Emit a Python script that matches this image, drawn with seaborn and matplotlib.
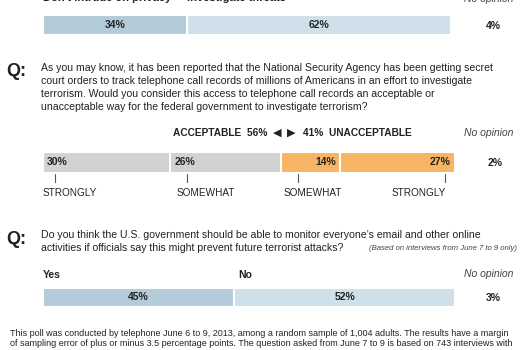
import numpy as np
import matplotlib
matplotlib.use("Agg")
import matplotlib.pyplot as plt
import seaborn as sns

# --- data ---
privacy_labels = ["Don't intrude on privacy", "Investigate threats"]
privacy_values = [34, 62]
privacy_noop = 4

nsa_values = [30, 26, 14, 27]          # acceptable strongly/somewhat, unacceptable somewhat/strongly
nsa_labels = ["STRONGLY", "SOMEWHAT", "SOMEWHAT", "STRONGLY"]
nsa_acceptable = 56
nsa_unacceptable = 41
nsa_noop = 2

email_labels = ["Yes", "No"]
email_values = [45, 52]
email_noop = 3

q2_lines = [
    "As you may know, it has been reported that the National Security Agency has been getting secret",
    "court orders to track telephone call records of millions of Americans in an effort to investigate",
    "terrorism. Would you consider this access to telephone call records an acceptable or",
    "unacceptable way for the federal government to investigate terrorism?",
]
q3_lines = [
    "Do you think the U.S. government should be able to monitor everyone\u2019s email and other online",
    "activities if officials say this might prevent future terrorist attacks?",
]
q3_note = "(Based on interviews from June 7 to 9 only)"
footnote = [
    "This poll was conducted by telephone June 6 to 9, 2013, among a random sample of 1,004 adults. The results have a margin",
    "of sampling error of plus or minus 3.5 percentage points. The question asked from June 7 to 9 is based on 743 interviews with",
]

W, H = 527, 350
sns.set_theme(style="white")
plt.rcParams['font.family'] = ['Liberation Sans', 'DejaVu Sans']
TXT = "#222222"

fig = plt.figure(figsize=(W / 100, H / 100), dpi=100)
fig.patch.set_facecolor("white")


def fx(x):
    return x / W


def fy(y):
    return 1 - y / H


def ftext(x, y, s, **kw):
    kw.setdefault("color", TXT)
    kw.setdefault("va", "center")
    fig.text(fx(x), fy(y), s, **kw)


PX_PER_PCT = 4.25
BAR_X0 = 43


def bar_axes(top, bottom):
    ax = fig.add_axes([fx(BAR_X0), fy(bottom), 100 * PX_PER_PCT / W, (bottom - top) / H])
    return ax


def stacked(ax, values, colors):
    cum = np.cumsum(values)
    # draw longest first so shorter ones sit on top (seaborn-style stacking)
    for c, col in sorted(zip(cum, colors), key=lambda t: -t[0]):
        sns.barplot(x=[c], y=["r"], orient="h", color=col, width=1,
                    edgecolor="white", linewidth=1.5, saturation=1, ax=ax)
    ax.set_xlim(0, 100)
    ax.set_ylim(0.5, -0.5)
    ax.axis("off")
    return cum


# ---------- block 1 ----------
ax1 = bar_axes(15, 35)
cum1 = stacked(ax1, privacy_values, ["#b4cbd9", "#cfe0ea"])
starts1 = cum1 - np.array(privacy_values)
for s, v, lab in zip(starts1, privacy_values, privacy_labels):
    ax1.text(s + v / 2, 0, f"{v}%", ha="center", va="center", fontsize=7.5,
             fontweight="bold", color=TXT)
    ax1.text(s, -1.2, lab, ha="left", va="baseline", fontsize=8,
             fontweight="bold", color=TXT, clip_on=False)
ftext(513, 2, "No opinion", ha="right", va="baseline", fontsize=7.5, style="italic", color="#444444")
ftext(493, 26, f"{privacy_noop}%", ha="center", fontsize=7.5, fontweight="bold")

# ---------- block 2 ----------
ftext(16, 71, "Q:", ha="center", fontsize=13, fontweight="bold")
for i, line in enumerate(q2_lines):
    ftext(41, 68 + i * 13, line, ha="left", fontsize=7.6)

ftext(267, 133, f"ACCEPTABLE  {nsa_acceptable}%", ha="right", fontsize=7.3, fontweight="bold")
ftext(277, 133, "\u25c0", ha="center", fontsize=8, family=['DejaVu Sans'])
ftext(291, 133, "\u25b6", ha="center", fontsize=8, family=['DejaVu Sans'])
ftext(303, 133, f"{nsa_unacceptable}%  UNACCEPTABLE", ha="left", fontsize=7.3, fontweight="bold")
ftext(513, 133, "No opinion", ha="right", fontsize=7.5, style="italic", color="#444444")

ax2 = bar_axes(152, 173)
cum2 = stacked(ax2, nsa_values, ["#d2d2d2", "#d2d2d2", "#f7b462", "#f7b462"])
starts2 = cum2 - np.array(nsa_values)
tr = ax2.get_xaxis_transform()
for k, (s, e, v, lab) in enumerate(zip(starts2, cum2, nsa_values, nsa_labels)):
    if k < 2:
        ax2.text(s + 1, 0, f"{v}%", ha="left", va="center", fontsize=7.5,
                 fontweight="bold", color=TXT)
        tick = s + (2.8 if k == 0 else 4)
        ax2.text(s + (0 if k == 0 else 1.5), -0.95, lab, transform=tr, ha="left",
                 va="center", fontsize=7.2, color=TXT)
    else:
        ax2.text(e - 1, 0, f"{v}%", ha="right", va="center", fontsize=7.5,
                 fontweight="bold", color=TXT)
        if k == 2:
            tick = s + 4
            ax2.text(s + 0.5, -0.95, lab, transform=tr, ha="left",
                     va="center", fontsize=7.2, color=TXT)
        else:
            tick = e - 2.5
            ax2.text(e - 2.3, -0.95, lab, transform=tr, ha="right",
                     va="center", fontsize=7.2, color=TXT)
    ax2.plot([tick, tick], [-0.03, -0.45], transform=tr, color="#555555",
             lw=0.8, clip_on=False)
ftext(495, 163, f"{nsa_noop}%", ha="center", fontsize=7.5, fontweight="bold")

# ---------- block 3 ----------
ftext(16, 239, "Q:", ha="center", fontsize=13, fontweight="bold")
ftext(41, 235, q3_lines[0], ha="left", fontsize=7.6)
ftext(41, 248, q3_lines[1], ha="left", fontsize=7.6)
ftext(369, 248, q3_note, ha="left", fontsize=5.6, style="italic", color="#444444")

ax3 = bar_axes(288, 307)
cum3 = stacked(ax3, email_values, ["#b4cbd9", "#cfe0ea"])
starts3 = cum3 - np.array(email_values)
for k, (s, v, lab) in enumerate(zip(starts3, email_values, email_labels)):
    ax3.text(s + v / 2, 0, f"{v}%", ha="center", va="center", fontsize=7.5,
             fontweight="bold", color=TXT)
    ax3.text(s + (0 if k == 0 else 1), -1.2, lab, ha="left", va="center", fontsize=7.5,
             fontweight="bold", color=TXT, clip_on=False)
ftext(513, 274, "No opinion", ha="right", fontsize=7.5, style="italic", color="#444444")
ftext(493, 298, f"{email_noop}%", ha="center", fontsize=7.5, fontweight="bold")

# ---------- footnote ----------
ftext(10, 333, footnote[0], ha="left", fontsize=6.5)
ftext(10, 344, footnote[1], ha="left", fontsize=6.5)

fig.savefig("out.png", dpi=100, facecolor="white")
